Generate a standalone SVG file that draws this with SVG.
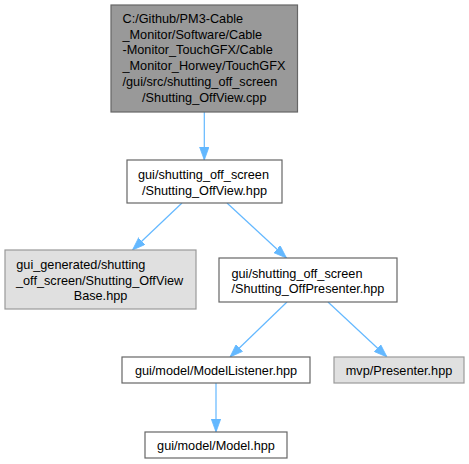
<svg xmlns="http://www.w3.org/2000/svg" width="469" height="464" viewBox="0 0 469 464">
<style>
text{font-family:"Liberation Sans",Arial,sans-serif;font-size:12.7px;fill:#000}
.c{text-anchor:middle}
.dark{fill:#999999;stroke:#666666;stroke-width:1.2}
.white{fill:#ffffff;stroke:#666666;stroke-width:1.2}
.gray{fill:#e0e0e0;stroke:#999999;stroke-width:1.2}
.edge{stroke:#63b8ff;stroke-width:1.2;fill:none}
</style>
<defs>
<marker id="ah" viewBox="0 0 13 10" refX="13" refY="5" markerWidth="13" markerHeight="10" markerUnits="userSpaceOnUse" orient="auto">
<path d="M0,0.3 L13,5 L0,9.7 Z" fill="#63b8ff" stroke="#63b8ff" stroke-width="0.8"/>
</marker>
</defs>
<rect width="469" height="464" fill="#ffffff"/>
<g id="connectors">
<line class="edge" x1="204.3" y1="112" x2="204.3" y2="160" marker-end="url(#ah)"/>
<line class="edge" x1="182" y1="203" x2="132.5" y2="250" marker-end="url(#ah)"/>
<line class="edge" x1="227" y1="203" x2="286.5" y2="258" marker-end="url(#ah)"/>
<line class="edge" x1="287" y1="302" x2="230" y2="357" marker-end="url(#ah)"/>
<line class="edge" x1="328" y1="302" x2="387" y2="357" marker-end="url(#ah)"/>
<line class="edge" x1="216" y1="383" x2="216" y2="432" marker-end="url(#ah)"/>
</g>
<g id="node1">
<rect class="dark" x="111" y="5" width="186.5" height="107"/>
<text x="122.5" y="23">C:/Github/PM3-Cable</text>
<text x="122.5" y="38.7">_Monitor/Software/Cable</text>
<text x="122.5" y="54.4">-Monitor_TouchGFX/Cable</text>
<text x="122.5" y="70.1">_Monitor_Horwey/TouchGFX</text>
<text x="122.5" y="85.8">/gui/src/shutting_off_screen</text>
<text class="c" x="204.3" y="101.5">/Shutting_OffView.cpp</text>
</g>
<g id="node2">
<rect class="white" x="127" y="160" width="155" height="43"/>
<text x="138" y="179.3">gui/shutting_off_screen</text>
<text class="c" x="204.5" y="194.5">/Shutting_OffView.hpp</text>
</g>
<g id="node3">
<rect class="gray" x="5" y="250" width="191" height="59"/>
<text x="16.3" y="269">gui_generated/shutting</text>
<text x="16" y="284.5">_off_screen/Shutting_OffView</text>
<text class="c" x="100.5" y="300">Base.hpp</text>
</g>
<g id="node4">
<rect class="white" x="219" y="258" width="178" height="44"/>
<text x="231.5" y="277.5">gui/shutting_off_screen</text>
<text class="c" x="308" y="293">/Shutting_OffPresenter.hpp</text>
</g>
<g id="node5">
<rect class="white" x="122" y="357" width="188" height="26"/>
<text class="c" x="216" y="374.5">gui/model/ModelListener.hpp</text>
</g>
<g id="node6">
<rect class="gray" x="334" y="357" width="130" height="26"/>
<text class="c" x="399" y="374.5">mvp/Presenter.hpp</text>
</g>
<g id="node7">
<rect class="white" x="145" y="432" width="142" height="26"/>
<text class="c" x="216" y="449.5">gui/model/Model.hpp</text>
</g>
</svg>
